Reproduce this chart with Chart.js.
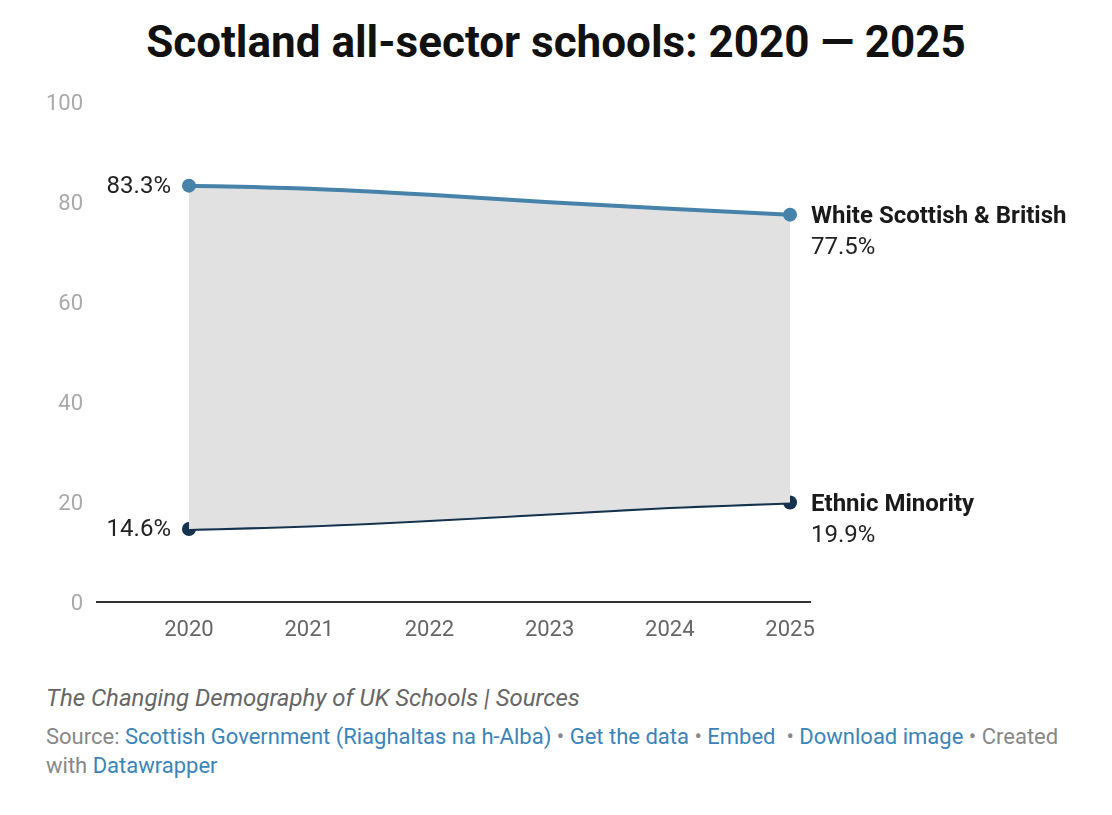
<!DOCTYPE html>
<html>
<head>
<meta charset="utf-8">
<script src="https://cdn.jsdelivr.net/npm/chart.js@4"></script>
<style>
  body { margin: 0; background: #fff; font-family: Roboto, sans-serif; }
  #wrap { position: relative; width: 1112px; height: 815px; }
  h1 { position: absolute; top: 16px; left: 0; width: 1112px; margin: 0; text-align: center;
       font: bold 44px/52px Roboto, sans-serif; color: #111; }
  #chartBox { position: absolute; top: 75px; left: 0; width: 1112px; height: 587px; }
  .notes { position: absolute; left: 46px; top: 684px; font: italic 24px Roboto, sans-serif; color: #666; }
  .source { position: absolute; left: 46px; top: 722px; width: 1030px; font: 22px/29px Roboto, sans-serif; color: #888; }
  .source a { color: #3b84b9; text-decoration: none; }
</style>
</head>
<body>
<div id="wrap">
  <h1>Scotland all-sector schools: 2020 — 2025</h1>
  <div id="chartBox"><canvas id="chart"></canvas></div>
  <div class="notes">The Changing Demography of UK Schools | Sources</div>
  <div class="source">Source: <a>Scottish Government (Riaghaltas na h-Alba)</a> • <a>Get the data</a> • <a>Embed</a> &nbsp;• <a>Download image</a> • Created with <a>Datawrapper</a></div>
</div>
<script>
// data
const years = [2020, 2021, 2022, 2023, 2024, 2025];
const whiteBritish = [83.3, 82.7, 81.5, 80.0, 78.7, 77.5];
const ethnicMinority = [14.6, 15.3, 16.4, 17.7, 19.0, 19.9];
const seriesNames = ['White Scottish & British', 'Ethnic Minority'];
const yTicks = [0, 20, 40, 60, 80, 100];

const whiteColor = '#4682a9';
const ethnicColor = '#15324f';

function toPoints(vals) {
  return years.map((y, i) => ({ x: y, y: vals[i] }));
}

// dots only on first and last point
const endRadius = years.map((y, i) => (i === 0 || i === years.length - 1) ? 7 : 0);

// value labels at both ends + series names on the right
const endLabels = {
  id: 'endLabels',
  afterDatasetsDraw(chart) {
    const { ctx, scales: { x, y } } = chart;
    const sets = [whiteBritish, ethnicMinority];
    ctx.save();
    sets.forEach((vals, i) => {
      const first = vals[0], last = vals[vals.length - 1];
      const x0 = x.getPixelForValue(years[0]);
      const x1 = x.getPixelForValue(years[years.length - 1]);
      ctx.fillStyle = '#222';
      ctx.font = '24px Roboto';
      ctx.textAlign = 'right';
      ctx.textBaseline = 'middle';
      ctx.fillText(first.toFixed(1) + '%', x0 - 18, y.getPixelForValue(first) + 1);
      ctx.textAlign = 'left';
      ctx.font = 'bold 24px Roboto';
      ctx.fillStyle = '#1a1a1a';
      const ly = y.getPixelForValue(last);
      ctx.fillText(seriesNames[i], x1 + 21, ly + 2);
      ctx.font = '24px Roboto';
      ctx.fillStyle = '#222';
      ctx.fillText(last.toFixed(1) + '%', x1 + 21, ly + 33);
    });
    ctx.restore();
  }
};

const ctx = document.getElementById('chart').getContext('2d');
new Chart(ctx, {
  type: 'line',
  data: {
    datasets: [{
      label: seriesNames[0],
      data: toPoints(whiteBritish),
      borderColor: whiteColor,
      backgroundColor: '#e1e1e1',
      pointBackgroundColor: whiteColor,
      pointBorderWidth: 0,
      pointRadius: endRadius,
      borderWidth: 4,
      tension: 0.3,
      fill: '+1',
    }, {
      label: seriesNames[1],
      data: toPoints(ethnicMinority),
      borderColor: ethnicColor,
      pointBackgroundColor: ethnicColor,
      pointBorderWidth: 0,
      pointRadius: endRadius,
      borderWidth: 4,
      tension: 0.3,
      fill: false,
    }]
  },
  options: {
    responsive: true,
    maintainAspectRatio: false,
    animation: false,
    layout: { padding: { top: 22, right: 302, left: 0, bottom: 0 } },
    plugins: {
      legend: { display: false },
      tooltip: { enabled: false }
    },
    scales: {
      x: {
        type: 'linear',
        min: 2019.235,
        max: 2025.166,
        afterBuildTicks: (scale) => { scale.ticks = years.map(v => ({ value: v })); },
        afterFit: (scale) => { scale.height = 60; },
        grid: { display: false, drawTicks: false },
        border: { display: true, color: '#333', width: 2 },
        ticks: {
          color: '#666',
          font: { family: 'Roboto', size: 22 },
          padding: 15,
          maxRotation: 0,
          callback: (v) => String(v)
        }
      },
      y: {
        min: 0,
        max: 100,
        afterBuildTicks: (scale) => { scale.ticks = yTicks.map(v => ({ value: v })); },
        afterFit: (scale) => { scale.width = 97; },
        grid: { display: false, drawTicks: false },
        border: { display: false },
        ticks: {
          color: '#aaa',
          font: { family: 'Roboto', size: 22 },
          padding: 14,
          labelOffset: 2
        }
      }
    }
  },
  plugins: [endLabels]
});
</script>
</body>
</html>
